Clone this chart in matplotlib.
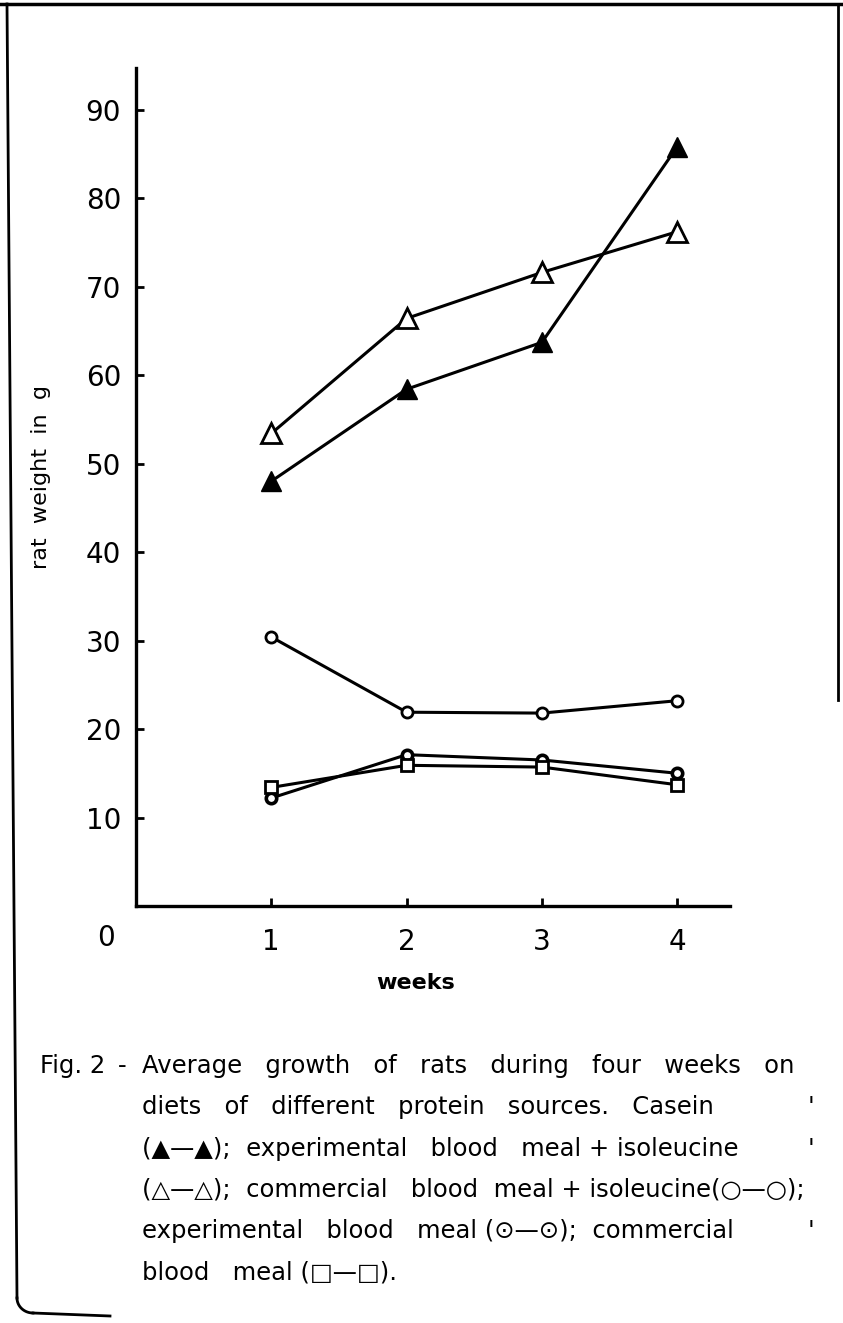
import matplotlib.pyplot as plt
from matplotlib.lines import Line2D
import numpy as np

# weeks on the diet
weeks = [1, 2, 3, 4]

# average rat weight in g
casein = [48, 58.4, 63.7, 85.8]
exp_bm_ile = [53.4, 66.4, 71.6, 76.2]
comm_bm_ile = [30.4, 21.9, 21.8, 23.2]
exp_bm = [12.2, 17.1, 16.5, 15.0]
comm_bm = [13.4, 15.9, 15.7, 13.7]

y_ticks = [10, 20, 30, 40, 50, 60, 70, 80, 90]
x_ticks = [1, 2, 3, 4]

W, H = 843, 1323
fig = plt.figure(figsize=(W / 100, H / 100), dpi=100)

# overlay in pixel coords for the page frame and caption
ov = fig.add_axes([0, 0, 1, 1])
ov.set_xlim(0, W)
ov.set_ylim(H, 0)
ov.axis('off')

ax = fig.add_axes([136 / W, 1 - 906 / H, (730 - 136) / W, (906 - 68) / H])
ax.patch.set_alpha(0)

lw = 2.2
ax.plot(weeks, casein, color='black', lw=lw, marker='^', markersize=15,
        markerfacecolor='black', markeredgecolor='black', zorder=3)
ax.plot(weeks, exp_bm_ile, color='black', lw=lw, marker='^', markersize=15,
        markerfacecolor='white', markeredgecolor='black', markeredgewidth=2, zorder=3)
ax.plot(weeks, comm_bm_ile, color='black', lw=lw, marker='o', markersize=8,
        markerfacecolor='white', markeredgecolor='black', markeredgewidth=2, zorder=3)
ax.plot(weeks, exp_bm, color='black', lw=lw, marker='o', markersize=7.5,
        markerfacecolor='white', markeredgecolor='black', markeredgewidth=2.6, zorder=3)
ax.plot(weeks, comm_bm, color='black', lw=lw, marker='s', markersize=8,
        markerfacecolor='white', markeredgecolor='black', markeredgewidth=2, zorder=3)

ax.set_xlim(0, 4.39)
ax.set_ylim(0, 94.7)
ax.set_xticks(x_ticks)
ax.set_yticks(y_ticks)
ax.set_xticklabels([str(t) for t in x_ticks])
ax.set_yticklabels([str(t) for t in y_ticks])
ax.tick_params(direction='in', length=6, width=2, labelsize=20)
ax.tick_params(axis='y', pad=10.8)
ax.tick_params(axis='x', pad=15.5)
for s in ['top', 'right']:
    ax.spines[s].set_visible(False)
for s in ['left', 'bottom']:
    ax.spines[s].set_linewidth(2.4)

ov.text(416, 983, 'weeks', fontsize=16, fontweight='bold', ha='center', va='center')
ov.text(41, 477, 'rat  weight  in  g', fontsize=16, rotation=90,
        ha='center', va='center')
ov.text(106, 938, '0', fontsize=20, ha='center', va='center')

# page frame of the scan
ov.add_line(Line2D([0, W], [4, 4], color='black', lw=2.5))
ov.add_line(Line2D([7, 17], [4, 1298], color='black', lw=2))
t = np.linspace(0, np.pi / 2, 20)
ov.add_line(Line2D(17 + 16 * (1 - np.cos(t)), 1298 + 15 * np.sin(t), color='black', lw=2))
ov.add_line(Line2D([33, 110], [1313, 1316], color='black', lw=2))
ov.add_line(Line2D([838, 838], [4, 700], color='black', lw=2))

cs = 17.5
y0, dy = 1066, 41.3
x0 = 142
ov.text(40, y0, 'Fig. 2', fontsize=cs, va='center')
ov.text(118, y0, '-', fontsize=cs, va='center')
lines = [
    'Average   growth   of   rats   during   four   weeks   on',
    'diets   of   different   protein   sources.   Casein',
    '(\u25b2\u2014\u25b2);  experimental   blood   meal + isoleucine',
    '(\u25b3\u2014\u25b3);  commercial   blood  meal + isoleucine(\u25cb\u2014\u25cb);',
    'experimental   blood   meal (\u2299\u2014\u2299);  commercial',
    'blood   meal (\u25a1\u2014\u25a1).',
]
for i, s in enumerate(lines):
    ov.text(x0, y0 + i * dy, s, fontsize=cs, va='center')
for i in [1, 2, 4]:
    ov.text(808, y0 + i * dy, "'", fontsize=cs, va='center')

fig.savefig('out.png', dpi=100)
